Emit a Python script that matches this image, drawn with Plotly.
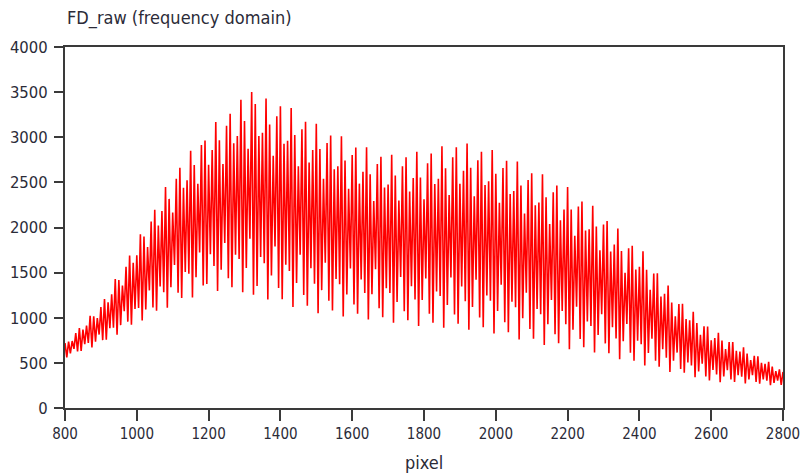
import plotly.graph_objects as go

x_start = 800
x_step = 5

# FD_raw samples (alternating fringe maxima / minima), 800..2800
fd_800 = [720, 560, 736, 604, 742, 656, 830, 626, 885, 631, 869, 707, 914, 720, 1021, 672, 1017, 735, 996, 814]
fd_900 = [1118, 752, 1208, 756, 1172, 884, 1261, 889, 1430, 812, 1418, 918, 1356, 1072, 1565, 957, 1690, 924, 1610, 1098]
fd_1000 = [1692, 1108, 1925, 970, 1899, 1091, 1783, 1303, 2066, 1114, 2196, 1079, 2023, 1347, 2183, 1283, 2450, 1110, 2317, 1339]
fd_1100 = [2165, 1585, 2540, 1276, 2662, 1218, 2440, 1506, 2522, 1488, 2850, 1225, 2693, 1448, 2484, 1722, 2914, 1357, 2963, 1373]
fd_1200 = [2695, 1705, 2860, 1574, 3170, 1296, 2967, 1533, 2704, 1828, 3127, 1439, 3259, 1339, 2934, 1698, 3013, 1651, 3415, 1282]
fd_1300 = [3179, 1551, 2872, 1876, 3500, 1254, 3369, 1353, 3014, 1674, 3051, 1605, 3430, 1202, 3142, 1468, 2796, 1790, 3233, 1331]
fd_1400 = [3344, 1206, 2929, 1587, 2962, 1519, 3325, 1120, 3026, 1384, 2678, 1698, 3088, 1252, 3172, 1134, 2721, 1549, 2858, 1378]
fd_1500 = [3150, 1050, 2870, 1306, 2541, 1609, 2937, 1189, 3019, 1081, 2646, 1430, 2678, 1372, 3010, 1015, 2743, 1258, 2430, 1546]
fd_1600 = [2804, 1146, 2887, 1044, 2486, 1424, 2617, 1273, 2890, 980, 2590, 1260, 2293, 1537, 2704, 1106, 2783, 1007, 2443, 1327]
fd_1700 = [2476, 1274, 2805, 945, 2576, 1174, 2298, 1452, 2678, 1072, 2778, 973, 2400, 1350, 2547, 1203, 2840, 910, 2554, 1196]
fd_1800 = [2314, 1436, 2713, 1045, 2821, 945, 2483, 1291, 2540, 1242, 2900, 890, 2657, 1141, 2361, 1445, 2777, 1037, 2889, 933]
fd_1900 = [2484, 1346, 2630, 1184, 2930, 868, 2663, 1119, 2345, 1421, 2746, 1004, 2839, 895, 2472, 1246, 2513, 1189, 2860, 826]
fd_2000 = [2596, 1074, 2275, 1366, 2659, 951, 2740, 840, 2372, 1178, 2404, 1117, 2730, 760, 2465, 995, 2154, 1276, 2525, 876]
fd_2100 = [2602, 768, 2247, 1097, 2277, 1039, 2590, 699, 2335, 927, 2038, 1198, 2391, 817, 2465, 717, 2079, 1075, 2199, 929]
fd_2200 = [2450, 650, 2199, 867, 1909, 1121, 2232, 764, 2288, 673, 1966, 960, 1981, 909, 2240, 615, 2010, 810, 1747, 1038]
fd_2300 = [2034, 716, 2072, 608, 1735, 895, 1811, 769, 1990, 540, 1740, 740, 1499, 931, 1770, 611, 1797, 523, 1534, 746]
fd_2400 = [1564, 706, 1736, 470, 1532, 610, 1310, 768, 1490, 524, 1493, 457, 1235, 651, 1265, 557, 1358, 400, 1170, 524]
fd_2500 = [1016, 614, 1152, 432, 1156, 390, 986, 504, 972, 470, 1065, 340, 942, 406, 810, 492, 906, 348, 903, 305]
fd_2600 = [750, 421, 774, 372, 834, 286, 747, 349, 652, 418, 730, 316, 731, 289, 633, 363, 624, 346, 673, 272]
fd_2700 = [604, 316, 531, 363, 579, 289, 573, 269, 500, 316, 488, 302, 512, 252, 460, 278, 408, 304, 429, 257]
fd_2800 = [400]

fd_raw = (fd_800 + fd_900 + fd_1000 + fd_1100 + fd_1200 + fd_1300 + fd_1400 + fd_1500
          + fd_1600 + fd_1700 + fd_1800 + fd_1900 + fd_2000 + fd_2100 + fd_2200 + fd_2300
          + fd_2400 + fd_2500 + fd_2600 + fd_2700 + fd_2800)
pixel = [x_start + x_step * i for i in range(len(fd_raw))]

x_ticks = [800, 1000, 1200, 1400, 1600, 1800, 2000, 2200, 2400, 2600, 2800]
y_ticks = [0, 500, 1000, 1500, 2000, 2500, 3000, 3500, 4000]

FONT = "DejaVu Sans Condensed, DejaVu Sans, sans-serif"
TXT = "#2b2b38"
AX = "#3a3a3a"

fig = go.Figure()
fig.add_trace(go.Scatter(x=pixel, y=fd_raw, mode="lines",
                         line=dict(color="#ff0000", width=1.6),
                         hoverinfo="x+y", showlegend=False))

axis_common = dict(showgrid=False, zeroline=False, showline=True, mirror=True,
                   linecolor=AX, linewidth=2, ticks="outside", automargin=False,
                   tickwidth=1.5, tickcolor=AX, ticklabeloverflow="allow")

fig.update_layout(
    width=800, height=475,
    margin=dict(l=65, r=17, t=47, b=67),
    paper_bgcolor="white", plot_bgcolor="white",
    xaxis=dict(range=[800, 2800], tickvals=x_ticks, ticklen=11,
               tickfont=dict(family=FONT, size=15, color=TXT), **axis_common),
    yaxis=dict(range=[0, 4000], tickvals=y_ticks, ticklen=9, ticklabelstandoff=3,
               tickfont=dict(family=FONT, size=16.5, color=TXT), **axis_common),
    annotations=[
        dict(text="FD_raw (frequency domain)", xref="paper", yref="paper",
             x=0, y=1.08, xanchor="left", yanchor="middle", showarrow=False,
             font=dict(family=FONT, size=18, color=TXT)),
        dict(text="pixel", xref="paper", yref="paper",
             x=0.5, y=-0.152, xanchor="center", yanchor="middle", showarrow=False,
             font=dict(family=FONT, size=18, color=TXT)),
    ],
)

fig.write_html("out.html")
